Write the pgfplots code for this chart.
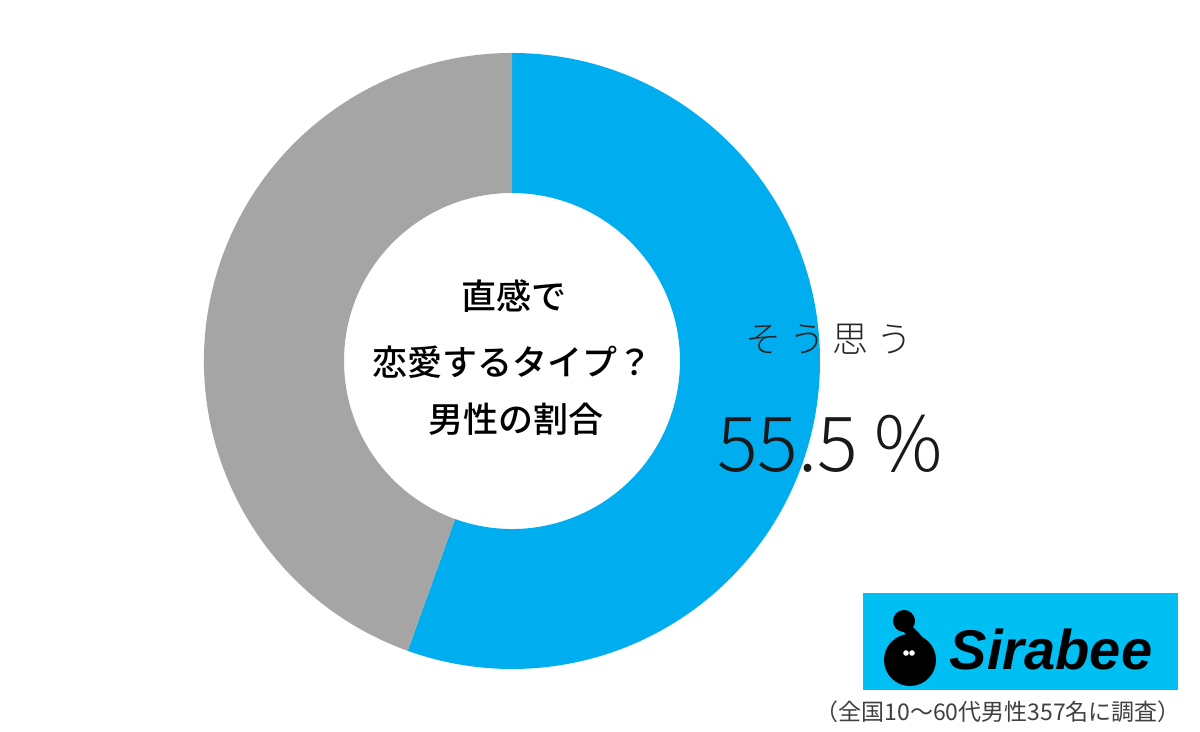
\documentclass[border=0pt]{standalone}
\usepackage{pgfplots}
\pgfplotsset{compat=1.18}
\usepackage{pgfplotstable}
\usepackage{fontspec}
\setmainfont{Liberation Sans}
\newfontfamily\jp{Noto Sans CJK JP}
\newfontfamily\jpm{Noto Sans CJK JP Medium}
\newfontfamily\jpl{Noto Sans CJK JP Light}
\newfontfamily\jpls[LetterSpace=22]{Noto Sans CJK JP Light}
\definecolor{sblue}{RGB}{0,174,239}
\definecolor{sgray}{RGB}{165,165,165}
\definecolor{logo}{RGB}{0,191,243}
\definecolor{note}{RGB}{64,64,64}

\pgfplotstableread{
label share
yes 55.5
no 44.5
}\sharetable

\begin{document}
\begin{tikzpicture}
\pgfplotstablegetelem{0}{share}\of\sharetable
\let\valA\pgfplotsretval
\pgfmathsetmacro\angA{90-3.6*\valA}
\begin{axis}[x=0.5pt,y=0.5pt,xmin=0,xmax=1200,ymin=0,ymax=732,hide axis,clip=false]
\fill[white] (axis cs:0,0) rectangle (axis cs:1200,732);
% donut slices
\fill[sblue] ([shift={(90:154pt)}]axis cs:512,371) arc[start angle=90,end angle=\angA,radius=154pt]
  -- ([shift={(\angA:84pt)}]axis cs:512,371) arc[start angle=\angA,end angle=90,radius=84pt] -- cycle;
\fill[sgray] ([shift={(\angA:154pt)}]axis cs:512,371) arc[start angle=\angA,end angle=-270,radius=154pt]
  -- ([shift={(-270:84pt)}]axis cs:512,371) arc[start angle=-270,end angle=\angA,radius=84pt] -- cycle;
% centre text
\node[font={\jpm\fontsize{17.5pt}{20pt}\selectfont}] at (axis cs:514,436) {直感で};
\node[font={\jpm\fontsize{17.5pt}{20pt}\selectfont}] at (axis cs:512,370) {恋愛するタイプ？};
\node[font={\jpm\fontsize{17.5pt}{20pt}\selectfont}] at (axis cs:516,313) {男性の割合};
% label
\node[font={\jpls\fontsize{18pt}{20pt}\selectfont}, text=black!85] at (axis cs:829,393) {そう思う};
\node[font={\jpl\fontsize{38pt}{40pt}\selectfont}, anchor=base, text=black!90] at (axis cs:830,260) {55.5 \%};
% logo
\fill[logo] (axis cs:863,42) rectangle (axis cs:1178,139);
\fill[black] (axis cs:910,72) circle[radius=13pt];
\fill[black] (axis cs:904,111) circle[radius=5.5pt];
\draw[black,line width=5pt] (axis cs:907,104) to[out=-50,in=110] (axis cs:920,88);
\fill[white] (axis cs:906,79) circle[radius=1.4pt];
\fill[white] (axis cs:912,79) circle[radius=1.4pt];
\node[font={\bfseries\itshape\fontsize{28pt}{30pt}\selectfont}, anchor=base] at (axis cs:1051,62) {Sirabee};
% note
\node[font={\jp\fontsize{11.5pt}{13pt}\selectfont}, text=note, anchor=east] at (axis cs:1188,20) {（全国10～60代男性357名に調査）};
\end{axis}
\end{tikzpicture}
\end{document}
